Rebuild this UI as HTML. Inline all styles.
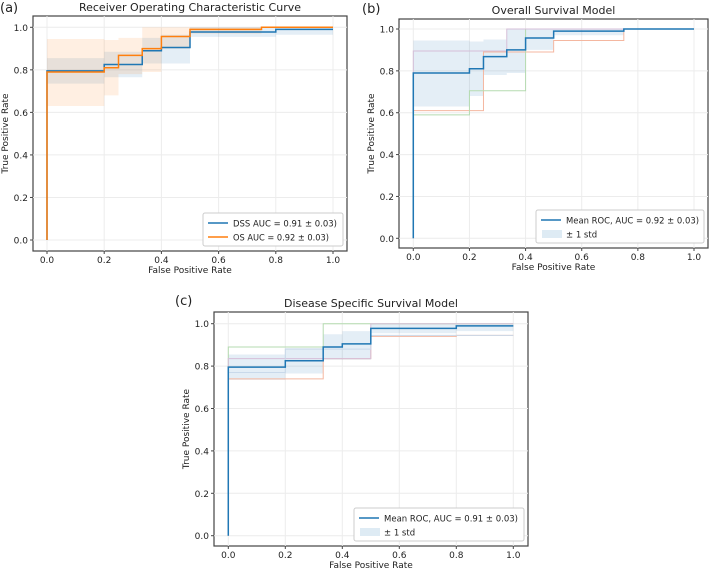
<!DOCTYPE html>
<html><head><meta charset="utf-8"><style>
body{margin:0;background:#fff;width:709px;height:571px;overflow:hidden;font-family:"DejaVu Sans","Liberation Sans",sans-serif}
svg text{font-family:"DejaVu Sans","Liberation Sans",sans-serif;fill:#222}
</style></head><body>
<svg id="s" width="709" height="571"></svg>
<script>
const ticks=[0,0.2,0.4,0.6,0.8,1.0];
const tickLabels=["0.0","0.2","0.4","0.6","0.8","1.0"];
// DSS mean ROC (step points)
const dssX=[0,0,0.2,0.2,0.333,0.333,0.4,0.4,0.5,0.5,0.8,0.8,1];
const dssY=[0,0.795,0.795,0.825,0.825,0.89,0.89,0.905,0.905,0.978,0.978,0.99,0.99];
const dssBandX=[0,0.2,0.2,0.333,0.333,0.4,0.4,0.5,0.5,0.8,0.8,1];
const dssUp=[0.855,0.855,0.885,0.885,0.95,0.95,0.965,0.965,1,1,1,1];
const dssLo=[0.735,0.735,0.765,0.765,0.83,0.83,0.83,0.83,0.955,0.955,0.965,0.965];
// OS mean ROC
const osX=[0,0,0.2,0.2,0.25,0.25,0.333,0.333,0.4,0.4,0.5,0.5,0.75,0.75,1];
const osY=[0,0.79,0.79,0.81,0.81,0.868,0.868,0.9,0.9,0.957,0.957,0.99,0.99,1,1];
const osBandX=[0,0.2,0.2,0.25,0.25,0.333,0.333,0.4,0.4,0.5,0.5,0.75,0.75,1];
const osUp=[0.945,0.945,0.94,0.94,0.95,0.95,1,1,1,1,1,1,1,1];
const osLo=[0.63,0.63,0.68,0.68,0.78,0.78,0.79,0.79,0.9,0.9,0.97,0.97,1,1];
// OS folds (panel b)
const osFoldX=[[0,0,0.25,0.25,0.5,0.5,0.75,0.75,1],[0,0,0.2,0.2,0.4,0.4,1],[0,0,0.333,0.333,1]];
const osFoldY=[[0,0.61,0.61,0.89,0.89,0.945,0.945,1,1],[0,0.59,0.59,0.705,0.705,1,1],[0,0.895,0.895,1,1]];
// DSS folds (panel c)
const dssFoldX=[[0,0,0.333,0.333,0.5,0.5,0.8,0.8,1],[0,0,0.333,0.333,1],[0,0,0.5,0.5,1],[0,0,0.2,0.2,0.5,0.5,1]];
const dssFoldY=[[0,0.74,0.74,0.835,0.835,0.94,0.94,0.945,0.945],[0,0.89,0.89,1,1],[0,0.835,0.835,1,1],[0,0.77,0.77,0.88,0.88,0.945,0.945]];
const foldColors=["#f4b7a0","#b5dbb0","#d6bfd8","#c9d9ea"];
const NS="http://www.w3.org/2000/svg";
const svg=document.getElementById('s');
function mk(t,a,p){const e=document.createElementNS(NS,t);for(const k in a)e.setAttribute(k,a[k]);(p||svg).appendChild(e);return e;}
function panel(cfg){
 const g=mk('g',{});
 
 
 const sx=v=>cfg.x0+(cfg.x1-cfg.x0)*v, sy=v=>cfg.y0+(cfg.y1-cfg.y0)*v;
 const box=mk('rect',{x:cfg.L,y:cfg.T,width:cfg.R-cfg.L,height:cfg.B-cfg.T,fill:'#fff',stroke:'#444','stroke-width':1.2},g);
 
 ticks.forEach((t,i)=>{
  mk('line',{x1:sx(t),x2:sx(t),y1:cfg.T,y2:cfg.B,stroke:'#ececec'},g);
  mk('line',{x1:cfg.L,x2:cfg.R,y1:sy(t),y2:sy(t),stroke:'#ececec'},g);
  mk('line',{x1:sx(t),x2:sx(t),y1:cfg.B,y2:cfg.B+3,stroke:'#444'},g);
  mk('line',{x1:cfg.L-3,x2:cfg.L,y1:sy(t),y2:sy(t),stroke:'#444'},g);
  const xt=mk('text',{x:sx(t),y:cfg.B+12,'font-size':9,'text-anchor':'middle'},g);xt.textContent=tickLabels[i];
  
  const yt=mk('text',{x:cfg.L-5,y:sy(t)+3.5,'font-size':9,'text-anchor':'end'},g);yt.textContent=tickLabels[i];
  
 });
 const band=(bx,up,lo,col,op)=>{let d='M'+bx.map((v,i)=>sx(v)+','+sy(up[i])).join('L')+'L'+bx.map((v,i)=>sx(v)+','+sy(lo[i])).reverse().join('L')+'Z';
  const p=mk('path',{d,fill:col,'fill-opacity':op,stroke:'none'},g);};
 const line=(xs,ys,col,w,nm)=>{const p=mk('path',{d:'M'+xs.map((v,i)=>sx(v)+','+sy(ys[i])).join('L'),fill:'none',stroke:col,'stroke-width':w},g);
  };
 (cfg.bands||[]).forEach(b=>band(b[0],b[1],b[2],b[3],b[4]));
 (cfg.folds||[]).forEach((f,i)=>line(f[0],f[1],foldColors[i%4],1,'fold-roc-line'));
 cfg.lines.forEach(l=>line(l[0],l[1],l[2],1.5,l[3]));
 const tt=mk('text',{x:(cfg.L+cfg.R)/2,y:cfg.T-5,'font-size':11,'text-anchor':'middle'},g);tt.textContent=cfg.title;
 
 const xl=mk('text',{x:(cfg.L+cfg.R)/2,y:cfg.B+22,'font-size':9,'text-anchor':'middle'},g);xl.textContent='False Positive Rate';
 
 const yx=cfg.L-25,yy=(cfg.T+cfg.B)/2;
 const yl=mk('text',{x:yx,y:yy,'font-size':9,'text-anchor':'middle',transform:`rotate(-90 ${yx} ${yy})`},g);yl.textContent='True Positive Rate';
 
 const pl=mk('text',{x:cfg.lx,y:cfg.ly,'font-size':13},g);pl.textContent=cfg.letter;
 
 const lg=mk('g',{},g);
 const lw=cfg.legW,lx=cfg.R-lw-4,ly=cfg.B-38;
 mk('rect',{x:lx,y:ly,width:lw,height:33,fill:'#fff',stroke:'#ccc',rx:2},lg);
 cfg.legend.forEach((e,i)=>{const y=ly+10+i*14;
  if(e[1]==='band')mk('rect',{x:lx+6,y:y-4,width:20,height:8,fill:'#1f77b4','fill-opacity':0.15},lg);
  else mk('line',{x1:lx+5,x2:lx+25,y1:y,y2:y,stroke:e[1],'stroke-width':1.5},lg);
  const a={x:lx+30,y:y+3.5,'font-size':8.5};
  if(e[2])a.textLength=e[2],a.lengthAdjust='spacingAndGlyphs';
  const t=mk('text',a,lg);t.textContent=e[0];
  });
}
panel({name:'panel-a',letter:'(a)',lx:0,ly:12,title:'Receiver Operating Characteristic Curve',L:33,R:347,T:16,B:251,x0:47,x1:333,y0:240,y1:27.3,
 bands:[[dssBandX,dssUp,dssLo,'#1f77b4',0.12],[osBandX,osUp,osLo,'#ff7f0e',0.12]],
 lines:[[dssX,dssY,'#1f77b4','dss-roc-line'],[osX,osY,'#ff7f0e','os-roc-line']],
 legW:140,legend:[['DSS AUC = 0.91 ± 0.03)','#1f77b4',104],['OS AUC = 0.92 ± 0.03)','#ff7f0e',96]]});
panel({name:'panel-b',letter:'(b)',lx:362,ly:13,title:'Overall Survival Model',L:399,R:708,T:19,B:248,x0:413.3,x1:694,y0:238.3,y1:29,
 bands:[[osBandX,osUp,osLo,'#1f77b4',0.12]],folds:osFoldX.map((x,i)=>[x,osFoldY[i]]),
 lines:[[osX,osY,'#1f77b4','mean-roc-line']],
 legW:168,legend:[['Mean ROC, AUC = 0.92 ± 0.03)','#1f77b4',133],['± 1 std','band']]});
panel({name:'panel-c',letter:'(c)',lx:175,ly:305,title:'Disease Specific Survival Model',L:214,R:528,T:312,B:546,x0:228.3,x1:513.3,y0:535.7,y1:323.7,
 bands:[[dssBandX,dssUp,dssLo,'#1f77b4',0.12]],folds:dssFoldX.map((x,i)=>[x,dssFoldY[i]]),
 lines:[[dssX,dssY,'#1f77b4','mean-roc-line']],
 legW:170,legend:[['Mean ROC, AUC = 0.91 ± 0.03)','#1f77b4',134],['± 1 std','band']]});
</script>
</body></html>
